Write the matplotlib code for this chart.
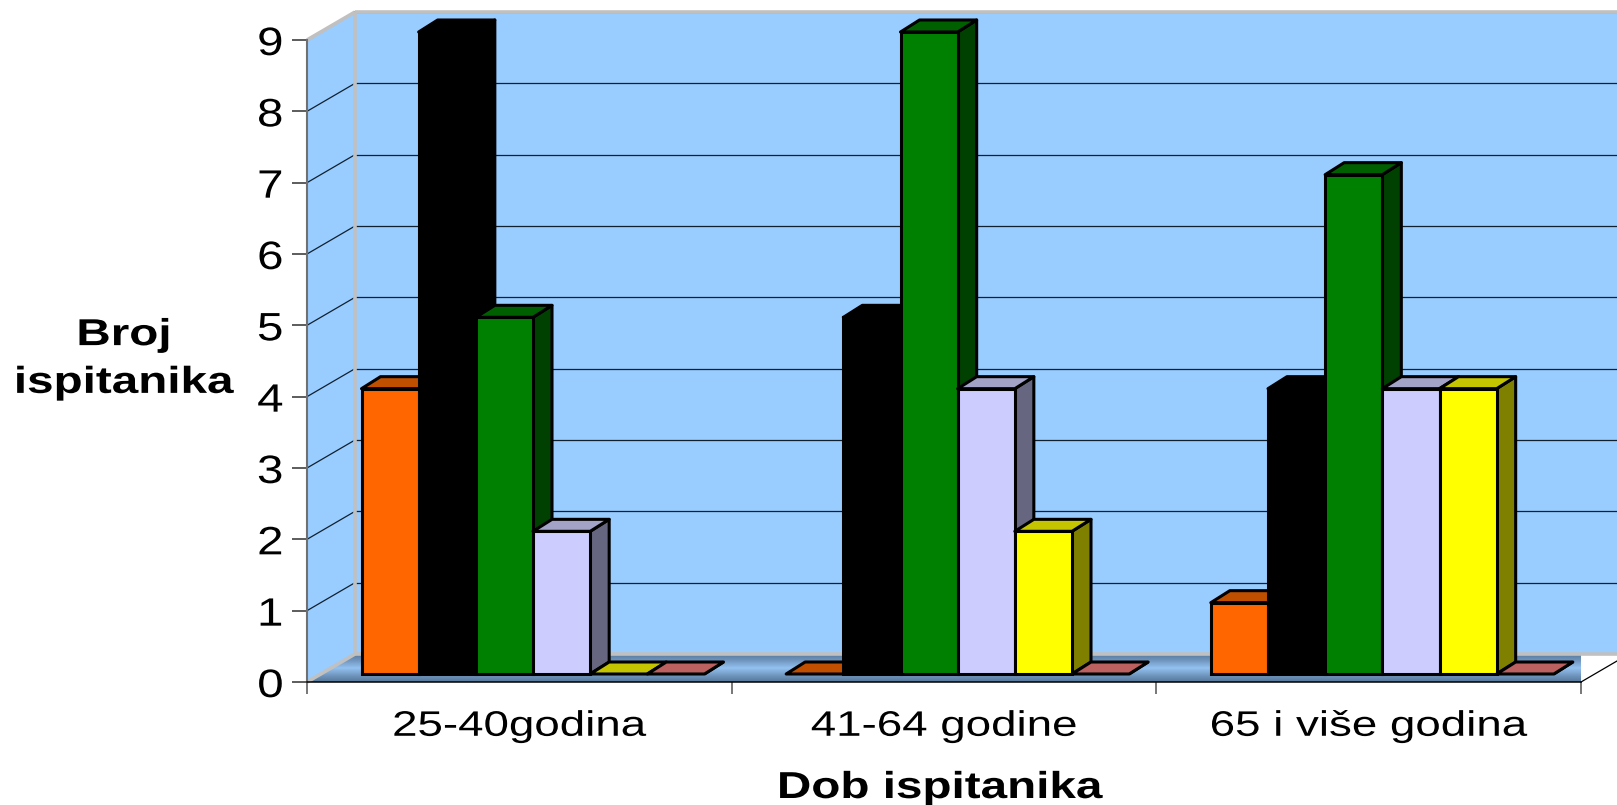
import numpy as np
import matplotlib
matplotlib.use("Agg")
import matplotlib.pyplot as plt
from matplotlib.patches import Polygon
from matplotlib.colors import LinearSegmentedColormap
from matplotlib.patheffects import AbstractPathEffect
from matplotlib.transforms import Affine2D

categories = ["25-40godina", "41-64 godine", "65 i više godina"]
y_ticks = [0, 1, 2, 3, 4, 5, 6, 7, 8, 9]
orange = [4, 0, 1]
black = [9, 5, 4]
green = [5, 9, 7]
lilac = [2, 4, 4]
yellow = [0, 2, 4]
red = [0, 0, 0]
series_values = [orange, black, green, lilac, yellow, red]
front_colors = ["#FF6600", "#000000", "#008000", "#CCCCFF", "#FFFF00", "#FF8080"]
top_colors = ["#C05000", "#000000", "#006000", "#A3A3C8", "#C4C400", "#BC6060"]
side_colors = ["#803300", "#000000", "#004000", "#666680", "#808000", "#804040"]
x_title = "Dob ispitanika"
y_title = "Broj\nispitanika"

W, H = 1617, 805
plt.rcParams["font.family"] = ["Liberation Sans", "DejaVu Sans"]


class Stretch(AbstractPathEffect):
    """Widen each line of text about its own centre (the original font is stretched)."""
    def __init__(self, sx):
        super().__init__()
        self.sx = sx

    def draw_path(self, renderer, gc, tpath, affine, rgbFace=None):
        box = tpath.get_extents(affine)
        cx = 0.5 * (box.x0 + box.x1)
        t = affine + Affine2D().translate(-cx, 0).scale(self.sx, 1).translate(cx, 0)
        renderer.draw_path(gc, tpath, t, rgbFace)


def axes_rect(left, top, right, bottom):
    return [left / W, 1 - bottom / H, (right - left) / W, (bottom - top) / H]


fig = plt.figure(figsize=(W / 100, H / 100), dpi=100, facecolor="white")

# main axes: front plane of the chart box
ax = fig.add_axes(axes_rect(307, 40, 1581, 682), zorder=1)
ax.set_xlim(0, 3)
ax.set_ylim(0, 9)
ax.patch.set_visible(False)
px = 3 / 1274
py = 9 / 642
DX, DY = 48 * px, 28 * py
WALL = "#99CCFF"
GRAY = "#C0C0C0"
XR = 3 + DX

# walls
ax.add_patch(Polygon([(DX, DY), (XR, DY), (XR, 9 + DY), (DX, 9 + DY)],
                     fc=WALL, ec="none", zorder=1, clip_on=False))
ax.add_patch(Polygon([(0, 0), (DX, DY), (DX, 9 + DY), (0, 9)],
                     fc=WALL, ec="none", zorder=1, clip_on=False))

# floor with gradient
cmap = LinearSegmentedColormap.from_list(
    "floor", ["#557799", "#7399C2", "#93C2F2", "#7399C2", "#587A9E"])
floor = Polygon([(0, 0), (3, 0), (XR, DY), (DX, DY)], transform=ax.transData,
                fc="none", ec="none")
ax.add_patch(floor)
floor.set_clip_on(False)
im = ax.imshow(np.linspace(0, 1, 64)[:, None], cmap=cmap, aspect="auto",
               extent=(0, XR, 0, DY), origin="lower", zorder=1.5)
im.set_clip_path(floor)
ax.set_xlim(0, 3)
ax.set_ylim(0, 9)

# gridlines on back and side walls
for v in y_ticks[1:]:
    ax.plot([DX, XR], [v + DY, v + DY], color="#10202E", lw=0.9, zorder=2, clip_on=False)
    ax.plot([0, DX], [v, v + DY], color="#10202E", lw=0.9, zorder=2, clip_on=False)

# wall borders
wb = dict(color=GRAY, lw=2.6, zorder=3, clip_on=False, solid_capstyle="butt")
ax.plot([DX, XR], [9 + DY, 9 + DY], **wb)
ax.plot([DX, DX], [DY, 9 + DY], **wb)
ax.plot([0, DX], [9, 9 + DY], **wb)
ax.plot([0, DX], [0, DY], **wb)
ax.plot([DX, XR], [DY, DY], **wb)
ax.plot([3, XR], [0, DY], color="black", lw=0.9, zorder=3, clip_on=False)

# axis lines, ticks, labels
for s in ("top", "right"):
    ax.spines[s].set_visible(False)
ax.spines["left"].set_color("#707070")
ax.spines["left"].set_linewidth(1.5)
ax.spines["bottom"].set_color("black")
ax.spines["bottom"].set_linewidth(1.1)
ax.spines["left"].set_zorder(4)
ax.spines["bottom"].set_zorder(4)
ax.set_xticks([0, 1, 2, 3])
ax.set_xticklabels([])
ax.set_xticks([0.5, 1.5, 2.5], minor=True)
ax.set_xticklabels(categories, minor=True, fontsize=25.5)
ax.tick_params(axis="x", which="major", length=8.5, width=1.2, color="#606060")
ax.tick_params(axis="x", which="minor", length=0, pad=20)
ax.set_yticks(y_ticks)
ax.tick_params(axis="y", length=10.5, width=1.1, color="#303030", labelsize=28.5, pad=8)
stretch_cat = Stretch(1.29)
for t in ax.get_xticklabels(minor=True):
    t.set_path_effects([stretch_cat])
stretch_num = Stretch(1.2)
for t in ax.get_yticklabels():
    t.set_path_effects([stretch_num])

# bars sit in their own plane, slightly behind the front edge
bx = fig.add_axes(axes_rect(321, 32, 1595, 674), zorder=2)
bx.set_xlim(0, 3)
bx.set_ylim(0, 9)
bx.axis("off")
bar_w = 343 * px / 6
gap = 40.5 * px
dx, dy = 19 * px, 12 * py
LW = 2.2
x_pos = np.arange(len(categories))
for s, vals in enumerate(series_values):
    for g, v in zip(x_pos, vals):
        x0 = g + gap + s * bar_w
        z = 10 + s + g * 10
        kw = dict(ec="black", lw=LW, joinstyle="round", clip_on=False, zorder=z)
        bx.add_patch(Polygon([(x0 + bar_w, 0), (x0 + bar_w + dx, dy),
                              (x0 + bar_w + dx, v + dy), (x0 + bar_w, v)],
                             fc=side_colors[s], **kw))
        bx.add_patch(Polygon([(x0, v), (x0 + bar_w, v), (x0 + bar_w + dx, v + dy),
                              (x0 + dx, v + dy)], fc=top_colors[s], **kw))
        if v > 0:
            bx.bar(x0, v, width=bar_w, align="edge", color=front_colors[s],
                   edgecolor="black", linewidth=LW, clip_on=False, zorder=z + 0.5)
bx.set_xlim(0, 3)
bx.set_ylim(0, 9)

# axis titles
t1 = fig.text(940 / W, 1 - 788 / H, x_title, ha="center", va="center",
              fontsize=27, fontweight="bold")
t1.set_path_effects([Stretch(1.27)])
t2 = fig.text(124 / W, 1 - 359 / H, y_title, ha="center", va="center",
              fontsize=27, fontweight="bold", linespacing=1.42)
t2.set_path_effects([Stretch(1.27)])

fig.savefig("out.png", dpi=100, facecolor="white")
